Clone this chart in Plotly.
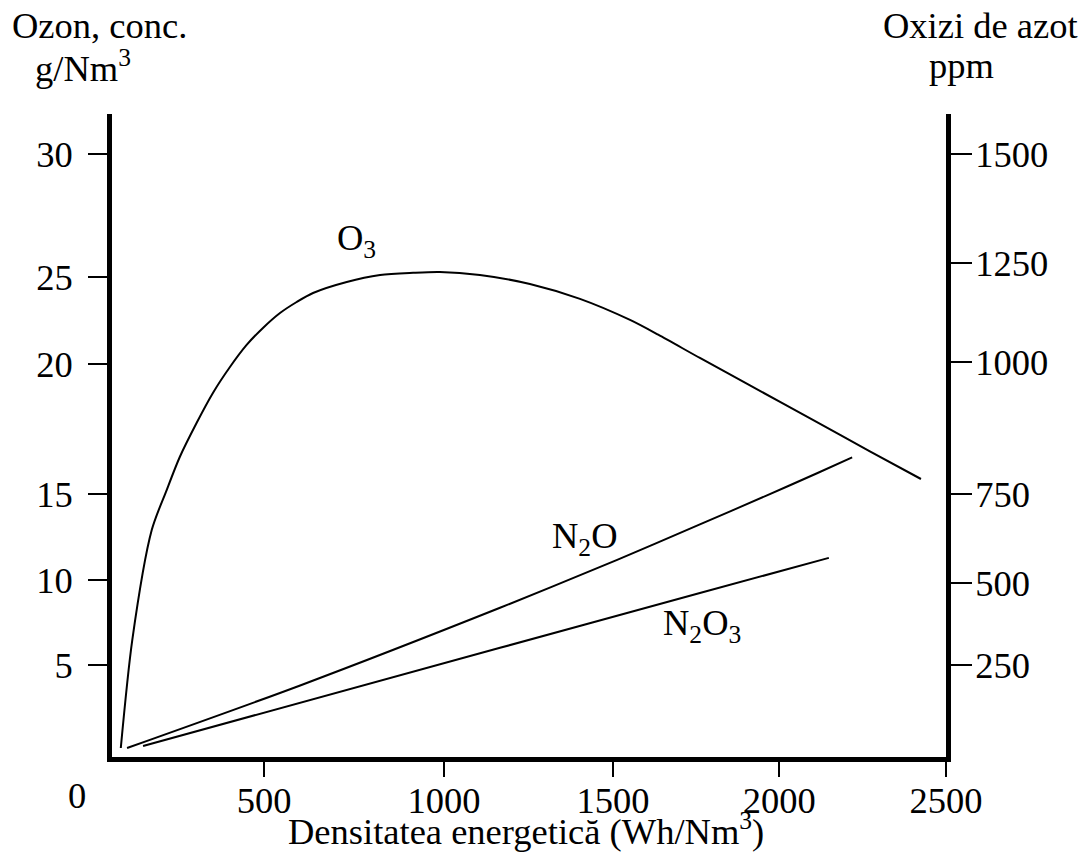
import plotly.graph_objects as go

# ---- data (axis units as drawn) ----
o3_x = [126, 159, 215, 258, 296, 344, 391, 440, 488, 535, 584, 632, 679, 776, 872, 967, 1044, 1159, 1303, 1447, 1591, 1672, 1792, 1936, 2117, 2281, 2428]
o3_y = [0.94, 6.22, 11.60, 13.56, 15.19, 16.84, 18.31, 19.58, 20.66, 21.49, 22.22, 22.76, 23.20, 23.74, 24.08, 24.19, 24.23, 24.08, 23.64, 22.91, 21.88, 21.16, 20.02, 18.68, 16.99, 15.45, 14.10]

n2o_x = [144, 642, 1217, 1554, 1792, 1985, 2129, 2230]
n2o_ppm = [47, 200, 390, 507, 594, 665, 719, 758]

n2o3_x = [190, 1217, 1792, 2163]
n2o3_ppm = [52, 292, 426, 512]

x_tick_labels = ["500", "1000", "1500", "2000", "2500"]
x_tick_pos = [538, 1056, 1542, 2020, 2500]
y_left_labels = ["30", "25", "20", "15", "10", "5"]
y_left_pos = [30, 23.98, 19.73, 13.37, 9.16, 5]
y_right_labels = ["1500", "1250", "1000", "750", "500", "250"]
y_right_pos = [1500, 1233, 991, 668, 451, 250]

FONT = "Liberation Serif, Times New Roman, serif"
FS = 36.5

fig = go.Figure()
line = dict(color="black", width=2, shape="spline", smoothing=0.8)
fig.add_trace(go.Scatter(x=o3_x, y=o3_y, mode="lines", line=line, yaxis="y", showlegend=False, hoverinfo="skip"))
fig.add_trace(go.Scatter(x=n2o_x, y=n2o_ppm, mode="lines", line=line, yaxis="y2", showlegend=False, hoverinfo="skip"))
fig.add_trace(go.Scatter(x=n2o3_x, y=n2o3_ppm, mode="lines", line=line, yaxis="y2", showlegend=False, hoverinfo="skip"))

yr = [0.499, 31.957]
fig.update_layout(
    width=1089, height=860,
    margin=dict(l=112, r=143, t=114, b=103),
    paper_bgcolor="white", plot_bgcolor="white",
    font=dict(family=FONT, size=FS, color="black"),
    xaxis=dict(range=[100.7, 2500], showgrid=False, zeroline=False, showline=True,
               linewidth=5, linecolor="black", ticks="outside", ticklen=15, tickwidth=2,
               tickcolor="black", tickvals=x_tick_pos, ticktext=x_tick_labels,
               tickfont=dict(family=FONT, size=FS), ticklabelstandoff=-8),
    yaxis=dict(range=yr, showgrid=False, zeroline=False, showline=True,
               linewidth=5, linecolor="black", ticks="outside", ticklen=19, tickwidth=2,
               tickcolor="black", tickvals=y_left_pos, ticktext=y_left_labels,
               tickfont=dict(family=FONT, size=FS), ticklabelstandoff=8),
    yaxis2=dict(range=[yr[0] * 50, yr[1] * 50], overlaying="y", side="right", anchor="x",
                showgrid=False, zeroline=False, showline=True,
                linewidth=5, linecolor="black", ticks="outside", ticklen=21, tickwidth=2,
                tickcolor="black", tickvals=y_right_pos, ticktext=y_right_labels,
                tickfont=dict(family=FONT, size=FS), ticklabelstandoff=-4),
)

ann = dict(showarrow=False, font=dict(family=FONT, size=FS, color="black"))
fig.add_annotation(x=-0.042, xref="paper", y=-0.0591, yref="paper", text="0", xanchor="center", yanchor="middle", **ann)
fig.add_annotation(x=0.4964, xref="paper", y=-0.1120, yref="paper",
                   text="Densitatea energetică (Wh/Nm<sup>3</sup>)", xanchor="center", yanchor="middle", **ann)
fig.add_annotation(x=-0.0144, xref="paper", y=1.1369, yref="paper", text="Ozon, conc.", xanchor="center", yanchor="middle", **ann)
fig.add_annotation(x=-0.0348, xref="paper", y=1.0747, yref="paper", text="g/Nm<sup>3</sup>", xanchor="center", yanchor="middle", **ann)
fig.add_annotation(x=1.0414, xref="paper", y=1.1384, yref="paper", text="Oxizi de azot", xanchor="center", yanchor="middle", **ann)
fig.add_annotation(x=1.018, xref="paper", y=1.0762, yref="paper", text="ppm", xanchor="center", yanchor="middle", **ann)
fig.add_annotation(x=803, xref="x", y=25.79, yref="y", text="O<sub>3</sub>", xanchor="center", yanchor="middle", **ann)
fig.add_annotation(x=1461, xref="x", y=11.21, yref="y", text="N<sub>2</sub>O", xanchor="center", yanchor="middle", **ann)
fig.add_annotation(x=1798, xref="x", y=6.91, yref="y", text="N<sub>2</sub>O<sub>3</sub>", xanchor="center", yanchor="middle", **ann)

fig.write_html("out.html", config={"displayModeBar": False, "staticPlot": True},
               post_script="document.body.style.margin='0px';document.body.style.overflow='hidden';")
